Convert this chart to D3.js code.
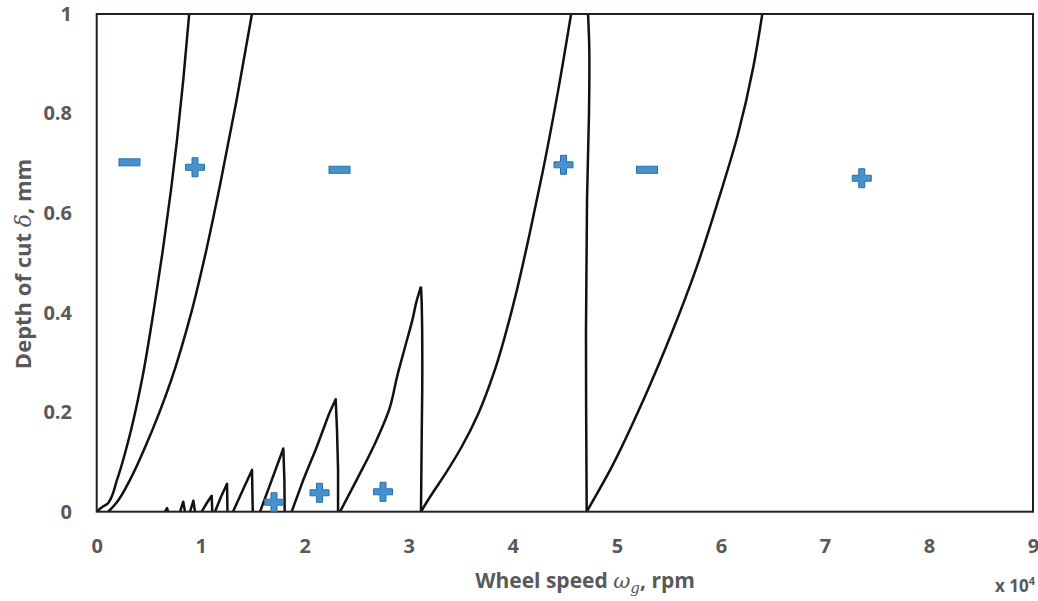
<!DOCTYPE html>
<html><head><meta charset="utf-8">
<script src="https://cdn.jsdelivr.net/npm/d3@7"></script>
<style>body{margin:0;background:#fff}svg{display:block}text{font-family:"Open Sans",sans-serif;font-weight:700;fill:#595959}</style>
</head><body><svg id="c" width="1038" height="601"></svg>
<script>
// x: wheel speed (x 10^4 rpm), y: depth of cut (mm)
const xTicks = [0,1,2,3,4,5,6,7,8,9];
const yTicks = [0,0.2,0.4,0.6,0.8,1];
const yTickLabels = ["0","0.2","0.4","0.6","0.8","1"];

const curve1 = [[0,0],[0.051,0.009],[0.109,0.017],[0.195,0.064],[0.330,0.164],[0.435,0.265],[0.547,0.403],[0.636,0.526],[0.714,0.646],[0.772,0.747],[0.832,0.867],[0.889,1.0]];
const curve2 = [[0.112,0],[0.186,0.017],[0.320,0.064],[0.466,0.130],[0.600,0.198],[0.717,0.265],[0.913,0.403],[1.054,0.526],[1.185,0.656],[1.345,0.827],[1.492,1.0]];
const lobeBlip = [[0.657,0],[0.676,0.0074],[0.686,0]];
const lobeA = [[0.801,0],[0.832,0.020],[0.849,0]];
const lobeB = [[0.897,0],[0.929,0.022],[0.945,0]];
const lobeC = [[1.009,0],[1.060,0.018],[1.105,0.032],[1.111,0]];
const lobeD = [[1.137,0],[1.195,0.030],[1.253,0.056],[1.257,0]];
const lobeE = [[1.310,0],[1.406,0.044],[1.493,0.084],[1.500,0]];
const lobeF = [[1.570,0],[1.676,0.060],[1.794,0.127],[1.804,0.064],[1.807,0]];
const lobeG = [[1.874,0],[1.986,0.064],[2.115,0.130],[2.236,0.198],[2.297,0.226],[2.310,0.164],[2.320,0.084],[2.320,0]];
const lobeHLeft = [[2.339,0],[2.499,0.064],[2.659,0.130],[2.819,0.210],[2.887,0.271],[2.964,0.331],[3.041,0.391],[3.070,0.419],[3.117,0.452]];
const lobeHRight = [[3.117,0.452],[3.124,0.419],[3.130,0.285],[3.124,0.150],[3.117,0]];
const curve4 = [[3.117,0],[3.205,0.030],[3.357,0.078],[3.507,0.130],[3.670,0.198],[3.827,0.285],[4.015,0.425],[4.163,0.560],[4.290,0.686],[4.436,0.847],[4.560,1.0]];
const curve5 = [[4.723,1.0],[4.735,0.928],[4.732,0.801],[4.713,0.626],[4.703,0.359],[4.710,0]];
const curve6 = [[4.710,0],[4.951,0.090],[5.254,0.224],[5.527,0.359],[5.768,0.492],[5.975,0.626],[6.167,0.761],[6.312,0.894],[6.398,1.0]];

const risingBranches = [curve1, curve2, lobeHLeft, curve4, curve6];
const otherBranches = [lobeHRight, curve5];
const sharpBranches = [lobeBlip, lobeA, lobeB, lobeC, lobeD, lobeE, lobeF, lobeG];

const plusX = [0.945, 4.487, 7.354, 1.704, 2.142, 2.752];
const plusY = [0.692, 0.697, 0.670, 0.019, 0.038, 0.040];
const minusX = [0.315, 2.334, 5.290];
const minusY = [0.702, 0.687, 0.687];

const svg = d3.select("#c");
const L = 96.7, R = 1033, T = 14, B = 511.7;
const x = d3.scaleLinear().domain([0,9]).range([L,R]);
const y = d3.scaleLinear().domain([0,1]).range([B,T]);

svg.append("defs").append("clipPath").attr("id","clip").append("rect")
  .attr("x",L).attr("y",T).attr("width",R-L).attr("height",B-T);

const g = svg.append("g").attr("clip-path","url(#clip)");
const lineMono = d3.line().x(d=>x(d[0])).y(d=>y(d[1])).curve(d3.curveMonotoneY);
const lineSmooth = d3.line().x(d=>x(d[0])).y(d=>y(d[1])).curve(d3.curveCatmullRom.alpha(0.5));
const lineSharp = d3.line().x(d=>x(d[0])).y(d=>y(d[1])).curve(d3.curveLinear);
const stroke = p => p.attr("fill","none").attr("stroke","#111").attr("stroke-width",2.5).attr("stroke-linejoin","round");
risingBranches.forEach(b => g.append("path").attr("d", lineMono(b)).call(stroke));
otherBranches.forEach(b => g.append("path").attr("d", lineSmooth(b)).call(stroke));
sharpBranches.forEach(b => g.append("path").attr("d", lineSharp(b)).call(stroke));

// frame
svg.append("rect").attr("x",L).attr("y",T).attr("width",R-L).attr("height",B-T)
  .attr("fill","none").attr("stroke","#1d2323").attr("stroke-width",2);

// markers
const mFill = "#4792cc", mStroke = "#2a6ea6";
const plusPath = "M-3,-9.5H3V-3H9.5V3H3V9.5H-3V3H-9.5V-3H-3Z";
svg.selectAll(".plus").data(plusX.map((v,i)=>[v,plusY[i]])).join("path")
  .attr("class","plus").attr("d",plusPath)
  .attr("transform",d=>`translate(${x(d[0])},${y(d[1])})`)
  .attr("fill",mFill).attr("stroke",mStroke).attr("stroke-width",1);
svg.selectAll(".minus").data(minusX.map((v,i)=>[v,minusY[i]])).join("rect")
  .attr("class","minus").attr("x",d=>x(d[0])-10.5).attr("y",d=>y(d[1])-3.5)
  .attr("width",21).attr("height",7)
  .attr("fill",mFill).attr("stroke",mStroke).attr("stroke-width",1);

// axes (labels only, no tick marks)
const xAxis = d3.axisBottom(x).tickValues(xTicks).tickSize(0).tickPadding(0).tickFormat(d3.format("d"));
const gx = svg.append("g").attr("transform",`translate(0,${B})`).call(xAxis);
gx.select(".domain").remove();
gx.selectAll("text").attr("y",41).attr("dy",null).attr("font-size",20).attr("fill","#595959")
  .style("font-family","'Open Sans',sans-serif").style("font-weight",700);

const yAxis = d3.axisLeft(y).tickValues(yTicks).tickSize(0).tickPadding(0).tickFormat((d,i)=>yTickLabels[i]);
const gy = svg.append("g").attr("transform",`translate(72,0)`).call(yAxis);
gy.select(".domain").remove();
gy.selectAll("text").attr("x",0).attr("font-size",20).attr("fill","#595959")
  .style("font-family","'Open Sans',sans-serif").style("font-weight",700);

// titles
const xt = svg.append("text").attr("x",585).attr("y",588).attr("text-anchor","middle").attr("font-size",21);
xt.append("tspan").text("Wheel speed ");
xt.append("tspan").text("ω").attr("font-style","italic").style("font-family","'DejaVu Serif',serif").style("font-weight",400);
xt.append("tspan").text("g").attr("font-style","italic").attr("font-size",15).attr("dy",5).style("font-family","'DejaVu Serif',serif").style("font-weight",400);
xt.append("tspan").text(", rpm").attr("dy",-5);

const yt = svg.append("text").attr("transform","translate(31,264) rotate(-90)").attr("text-anchor","middle").attr("font-size",22);
yt.append("tspan").text("Depth of cut ");
yt.append("tspan").text("δ").attr("font-style","italic").style("font-family","'DejaVu Serif',serif").style("font-weight",400);
yt.append("tspan").text(", mm");

const ex = svg.append("text").attr("x",1035).attr("y",592).attr("text-anchor","end").attr("font-size",17);
ex.append("tspan").text("x 10");
ex.append("tspan").text("4").attr("font-size",11).attr("dy",-7);
</script></body></html>
